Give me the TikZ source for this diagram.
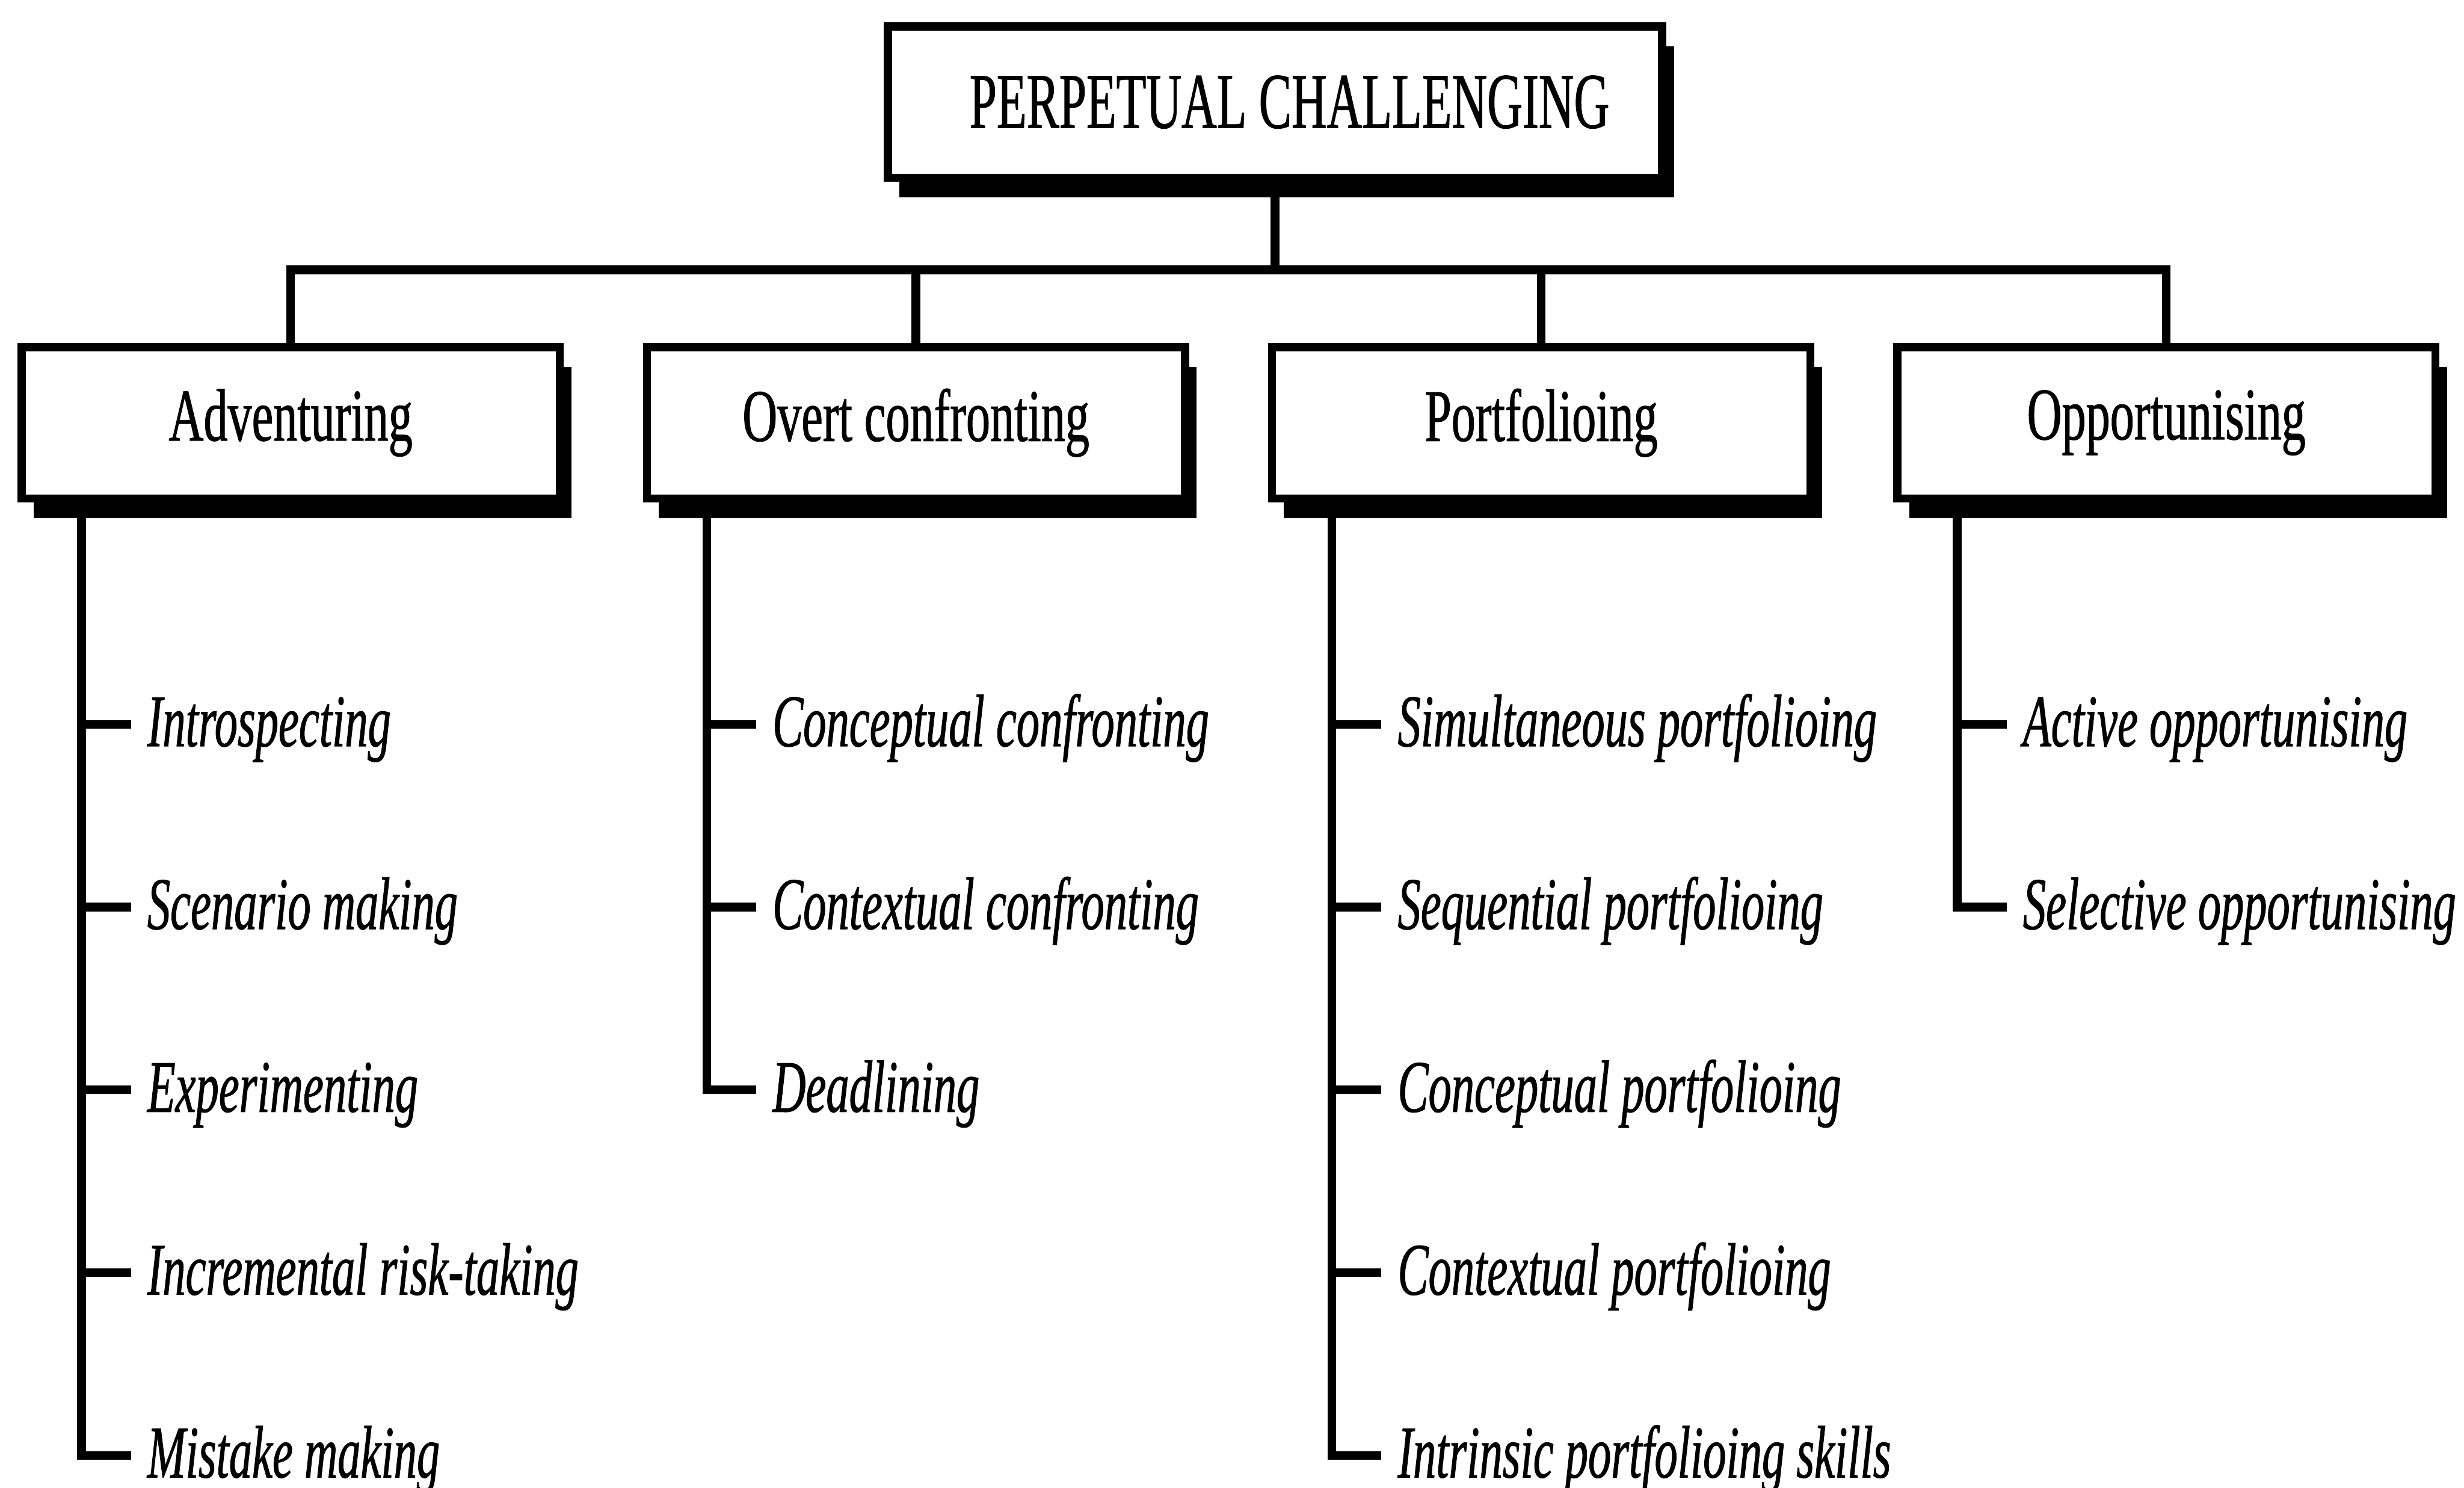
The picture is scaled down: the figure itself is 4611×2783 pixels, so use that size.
\documentclass[tikz,border=0pt]{standalone}
\usepackage{fontspec}
\setmainfont{Liberation Serif}
\newfontfamily\headfont[FakeStretch=0.62, FakeBold=0.8]{Liberation Serif}
\newfontfamily\labelfont[FakeStretch=0.65, FakeBold=0.8]{Liberation Serif}
\newfontfamily\itemfont[FakeStretch=0.62, FakeBold=0.8]{Liberation Serif}
\usetikzlibrary{shadows}

\begin{document}
\begin{tikzpicture}[x=0.1mm, y=-0.1mm,
  shadowed/.style={drop shadow={shadow xshift=2.2mm, shadow yshift=-3.7mm, fill=black, opacity=1}},
  headbox/.style={draw, line width=1.5mm, fill=white, shadowed, inner sep=0pt,
    minimum width=144.9mm, minimum height=28.3mm,
    font=\headfont\fontsize{42pt}{50pt}\selectfont},
  catbox/.style={draw, line width=1.5mm, fill=white, shadowed, inner sep=0pt,
    minimum width=100.7mm, minimum height=28.3mm,
    font=\labelfont\fontsize{39.5pt}{47pt}\selectfont},
  leaf/.style={anchor=west, inner xsep=3mm, inner ysep=0pt,
    text height=23.4pt, text depth=0pt,
    font=\itemfont\itshape\fontsize{39.5pt}{47pt}\selectfont},
  link/.style={line width=1.6mm},
]
\clip (0,0) rectangle (4611,2783);
\fill[white] (0,0) rectangle (4611,2783);

% root and the four categories
\node[headbox] (top) at (2386,191) {\hspace*{5.4mm}PERPETUAL CHALLENGING};
\node[catbox] (adv) at (544,791) {Adventuring};
\node[catbox] (ovc) at (1714,791) {Overt confronting};
\node[catbox] (prt) at (2884,791) {Portfolioing};
\node[catbox] (opp) at (4054,791) {Opportunising};

% tree connectors
\coordinate (bus) at (2386,505);
\draw[link] (top.south) -- (top.south |- bus);
\draw[link] (adv.north) |- (opp.north |- bus) -- (opp.north);
\draw[link] (ovc.north) -- (ovc.north |- bus);
\draw[link] (prt.north) -- (prt.north |- bus);

% leaves: Adventuring
\node[leaf] (adv1) at (245,1355) {Introspecting};
\node[leaf] (adv2) at (245,1697) {Scenario making};
\node[leaf] (adv3) at (245,2039) {Experimenting};
\node[leaf] (adv4) at (245,2381) {Incremental risk-taking};
\node[leaf] (adv5) at (245,2723) {Mistake making};

% leaves: Overt confronting
\node[leaf] (ovc1) at (1415,1355) {Conceptual confronting};
\node[leaf] (ovc2) at (1415,1697) {Contextual confronting};
\node[leaf] (ovc3) at (1415,2039) {Deadlining};

% leaves: Portfolioing
\node[leaf] (prt1) at (2585,1355) {Simultaneous portfolioing};
\node[leaf] (prt2) at (2585,1697) {Sequential portfolioing};
\node[leaf] (prt3) at (2585,2039) {Conceptual portfolioing};
\node[leaf] (prt4) at (2585,2381) {Contextual portfolioing};
\node[leaf] (prt5) at (2585,2723) {Intrinsic portfolioing skills};

% leaves: Opportunising
\node[leaf] (opp1) at (3755,1355) {Active opportunising};
\node[leaf] (opp2) at (3755,1697) {Selective opportunising};

% spines with their ticks
\coordinate (advS) at ([xshift=11.95mm]adv.south west);
\coordinate (ovcS) at ([xshift=11.95mm]ovc.south west);
\coordinate (prtS) at ([xshift=11.95mm]prt.south west);
\coordinate (oppS) at ([xshift=11.95mm]opp.south west);

\draw[link] (advS) |- (adv5.west);
\foreach \n in {adv1,adv2,adv3,adv4} \draw[link] (advS |- \n.west) -- (\n.west);

\draw[link] (ovcS) |- (ovc3.west);
\foreach \n in {ovc1,ovc2} \draw[link] (ovcS |- \n.west) -- (\n.west);

\draw[link] (prtS) |- (prt5.west);
\foreach \n in {prt1,prt2,prt3,prt4} \draw[link] (prtS |- \n.west) -- (\n.west);

\draw[link] (oppS) |- (opp2.west);
\draw[link] (oppS |- opp1.west) -- (opp1.west);
\end{tikzpicture}
\end{document}
